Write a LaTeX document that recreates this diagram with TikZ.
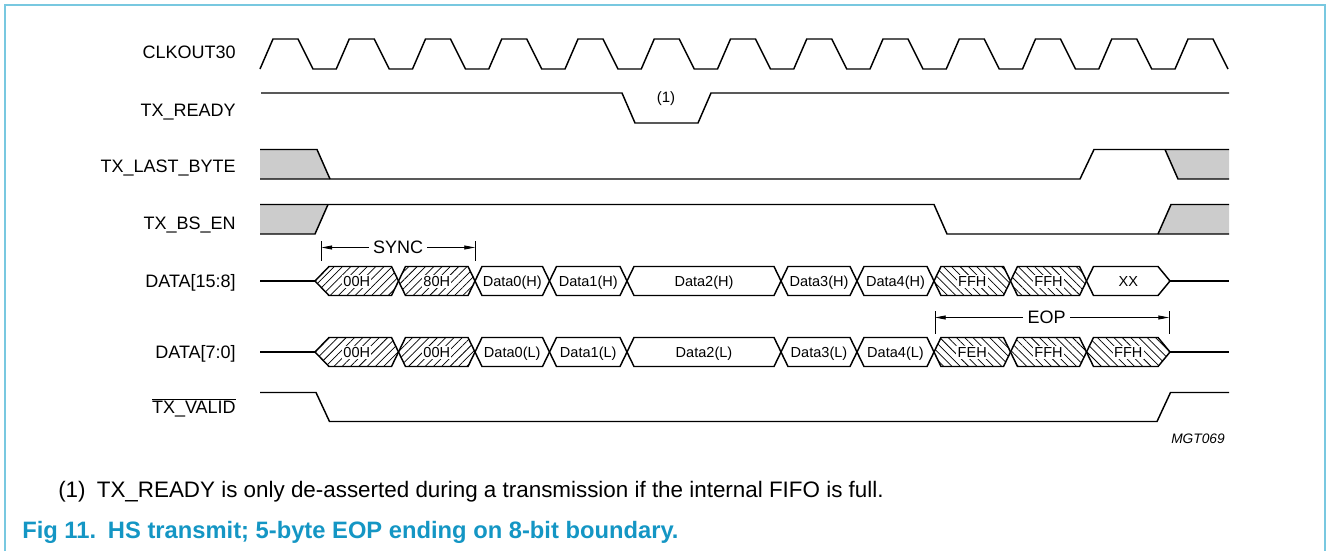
\documentclass[tikz,border=0pt]{standalone}
\usepackage{fontspec}
\setmainfont{Liberation Sans}
\usetikzlibrary{arrows.meta,patterns.meta}
\definecolor{framecol}{RGB}{120,200,224}
\definecolor{capcol}{RGB}{20,150,196}
\definecolor{fillgray}{RGB}{204,204,204}
\tikzset{
  sig/.style={line width=1.1pt},
  hatchne/.style={pattern={Lines[angle=45,distance=4.4pt,line width=0.55pt]}},
  hatchnw/.style={pattern={Lines[angle=-45,distance=4.4pt,line width=0.55pt]}},
  opencell/.style={fill=white},
  lbl/.style={anchor=base east,inner sep=0.75pt,font=\fontsize{13.5}{16}\selectfont},
  celltxt/.style={anchor=base,inner sep=1pt,fill=white,font=\fontsize{10.9}{13}\selectfont},
  dimline/.style={line width=0.6pt},
  dimarrow/.style={dimline,-{Triangle[length=8pt,width=3pt]}},
  dimtxt/.style={inner sep=3pt,font=\fontsize{13.5}{16}\selectfont},
}
\begin{document}
\begin{tikzpicture}[x=0.75pt,y=0.75pt,yscale=-1,xscale=1]
\useasboundingbox (0,0) rectangle (1327,551);
%Frame
\draw [framecol,line width=1.6pt] (5,551) -- (5,5) -- (1325,5) -- (1325,551) ;

% Text Node
\draw (237,58) node (clk) [lbl] {CLKOUT30};
% Text Node
\draw (237,116.5) node (rdy) [lbl] {TX\_READY};
% Text Node
\draw (237,172) node (last) [lbl] {TX\_LAST\_BYTE};
% Text Node
\draw (237,229) node (bsen) [lbl] {TX\_BS\_EN};
% Text Node
\draw (237,287.5) node (dhi) [lbl] {DATA[15:8]};
% Text Node
\draw (237,358.5) node (dlo) [lbl] {DATA[7:0]};
% Text Node
\draw (237,413.5) node (valid) [lbl] {$\overline{\mbox{TX\_VALID}}$};

%Clock
\draw [sig] (260,69) \foreach \k in {0,...,11} { -- ({273+76.25*\k},39) -- ({298+76.25*\k},39) -- ({313+76.25*\k},69) -- ({336.25+76.25*\k},69) } -- (1188,39) -- (1213,39) -- (1228,69) ;

%TX_READY
\draw [sig] (261,93) -- (622,93) -- (635,123) -- (698,123) -- (711,93) -- (1229,93) ;
% Text Node
\draw (666,99) node (note) [inner sep=0.75pt,font=\fontsize{11.25}{13}\selectfont] {(1)};

%TX_LAST_BYTE
\fill [fillgray] (260,149.5) -- (317,149.5) -- (330,179) -- (260,179) -- cycle ;
\fill [fillgray] (1165,149.5) -- (1229,149.5) -- (1229,179) -- (1178,179) -- cycle ;
\draw [sig] (260,149.5) -- (317,149.5) -- (330,179) ;
\draw [sig] (260,179) -- (1080,179) -- (1094,149.5) -- (1229,149.5) ;
\draw [sig] (1165,149.5) -- (1178,179) -- (1229,179) ;

%TX_BS_EN
\fill [fillgray] (260,204.5) -- (328,204.5) -- (315,234) -- (260,234) -- cycle ;
\fill [fillgray] (1158,234) -- (1171,204.5) -- (1229,204.5) -- (1229,234) -- cycle ;
\draw [sig] (260,234) -- (315,234) -- (328,204.5) ;
\draw [sig] (260,204.5) -- (934,204.5) -- (947,234) -- (1229,234) ;
\draw [sig] (1158,234) -- (1171,204.5) -- (1229,204.5) ;

%SYNC
\draw (398,247.5) node (sync) [dimtxt] {SYNC};
\coordinate (synca) at (321.5,247.5) ;
\coordinate (syncb) at (475,247.5) ;
\draw [dimline] (321.5,241) -- (321.5,261) ;
\draw [dimline] (475,241) -- (475,261) ;
\draw [dimarrow] (sync) -- (synca) ;
\draw [dimarrow] (sync) -- (syncb) ;

%DATA[15:8]
\draw [sig] (260,281) -- (315,281) ;
\draw [sig] (1170,281) -- (1229,281) ;
\foreach \a/\la/\b/\rb/\s/\t [count=\i] in {315/14/398.5/7/hatchne/00H, 398.5/7/475/7/hatchne/80H, 475/7/549.5/7/opencell/Data0(H), 549.5/7/627/7/opencell/Data1(H), 627/7/781/7/opencell/Data2(H), 781/7/857/7/opencell/Data3(H), 857/7/934/7/opencell/Data4(H), 934/7/1010.5/7/hatchnw/FFH, 1010.5/7/1086.5/7/hatchnw/FFH, 1086.5/7/1170/12/opencell/XX}
{
  \draw [sig,\s] (\a,281) -- ({\a+\la},266.5) -- ({\b-\rb},266.5) -- (\b,281) -- ({\b-\rb},295.5) -- ({\a+\la},295.5) -- cycle ;
  \draw ({(\a+\b)/2},286.5) node (hi\i) [celltxt] {\t};
}

%EOP
\draw (1046.5,317.5) node (eop) [dimtxt] {EOP};
\coordinate (eopa) at (935,317.5) ;
\coordinate (eopb) at (1169,317.5) ;
\draw [dimline] (935,311) -- (935,334) ;
\draw [dimline] (1169,311) -- (1169,334) ;
\draw [dimarrow] (eop) -- (eopa) ;
\draw [dimarrow] (eop) -- (eopb) ;

%DATA[7:0]
\draw [sig] (260,352) -- (315,352) ;
\draw [sig] (1170,352) -- (1229,352) ;
\foreach \a/\la/\b/\rb/\s/\t [count=\i] in {315/14/398.5/7/hatchne/00H, 398.5/7/475/7/hatchne/00H, 475/7/549.5/7/opencell/Data0(L), 549.5/7/627/7/opencell/Data1(L), 627/7/781/7/opencell/Data2(L), 781/7/857/7/opencell/Data3(L), 857/7/934/7/opencell/Data4(L), 934/7/1010.5/7/hatchnw/FEH, 1010.5/7/1086.5/7/hatchnw/FFH, 1086.5/7/1170/12/hatchnw/FFH}
{
  \draw [sig,\s] (\a,352) -- ({\a+\la},337.5) -- ({\b-\rb},337.5) -- (\b,352) -- ({\b-\rb},366.5) -- ({\a+\la},366.5) -- cycle ;
  \draw ({(\a+\b)/2},357.5) node (lo\i) [celltxt] {\t};
}

%TX_VALID
\draw [sig] (260,392.5) -- (316,392.5) -- (329.5,421.5) -- (1157,421.5) -- (1170.5,392.5) -- (1229,392.5) ;

% Text Node
\draw (1198,439) node (mgt) [inner sep=0.75pt,font=\fontsize{10.3}{12}\itshape] {MGT069};
% Text Node
\draw (58,497) node (foot) [anchor=base west,inner sep=0pt,font=\fontsize{16.8}{19}\selectfont] {(1)\hspace{0.5em}TX\_READY is only de-asserted during a transmission if the internal FIFO is full.};
% Text Node
\draw (22,538) node (cap) [anchor=base west,inner sep=0pt,text=capcol,font=\fontsize{17.8}{20}\bfseries] {Fig 11.\hspace{0.5em}HS transmit; 5-byte EOP ending on 8-bit boundary.};
\end{tikzpicture}
\end{document}
